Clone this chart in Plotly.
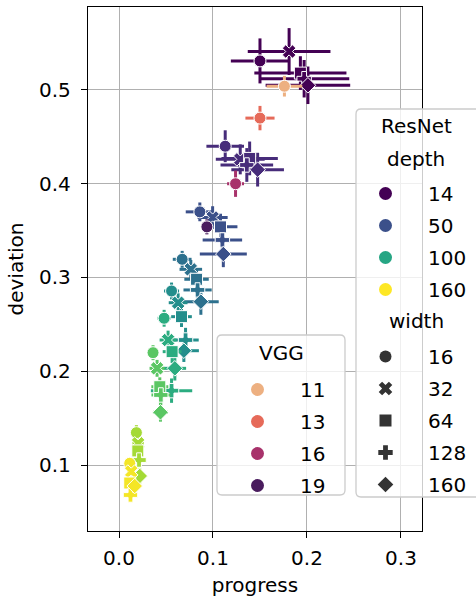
import plotly.graph_objects as go
from plotly.colors import sample_colorscale

# ---- ResNet runs: rows are depths, columns follow `res_widths` ----
res_depths = [14, 32, 50, 68, 86, 104, 122, 140, 158]
res_widths = [16, 32, 64, 128, 160]

res_progress = [
    [0.150, 0.181, 0.193, 0.197, 0.201],
    [0.113, 0.129, 0.139, 0.136, 0.1475],
    [0.086, 0.0996, 0.108, 0.110, 0.111],
    [0.0672, 0.0764, 0.0825, 0.0836, 0.0871],
    [0.0559, 0.0629, 0.0665, 0.0708, 0.069],
    [0.048, 0.0522, 0.0565, 0.0559, 0.0594],
    [0.0362, 0.0405, 0.0434, 0.0445, 0.0441],
    [0.0185, 0.0203, 0.020, 0.0213, 0.0221],
    [0.0114, 0.013, 0.0114, 0.0122, 0.0167],
]
res_deviation = [
    [0.531, 0.541, 0.518, 0.512, 0.505],
    [0.440, 0.426, 0.427, 0.420, 0.415],
    [0.370, 0.364, 0.354, 0.340, 0.325],
    [0.3194, 0.3087, 0.2981, 0.2867, 0.2742],
    [0.2856, 0.2731, 0.2582, 0.2333, 0.2219],
    [0.2565, 0.2333, 0.2209, 0.1793, 0.2031],
    [0.2198, 0.2031, 0.1835, 0.1747, 0.1562],
    [0.1345, 0.1231, 0.115, 0.1053, 0.0883],
    [0.1018, 0.093, 0.0808, 0.0680, 0.0776],
]
res_progress_err = [
    [0.031, 0.044, 0.049, 0.048, 0.045],
    [0.020, 0.026, 0.030, 0.028, 0.028],
    [0.015, 0.016, 0.018, 0.021, 0.025],
    [0.010, 0.012, 0.013, 0.015, 0.019],
    [0.008, 0.010, 0.011, 0.014, 0.016],
    [0.007, 0.009, 0.010, 0.022, 0.012],
    [0.006, 0.008, 0.009, 0.010, 0.008],
    [0.004, 0.006, 0.005, 0.006, 0.006],
    [0.003, 0.004, 0.004, 0.005, 0.004],
]
res_deviation_err = [
    [0.024, 0.025, 0.018, 0.020, 0.020],
    [0.017, 0.016, 0.018, 0.018, 0.018],
    [0.010, 0.012, 0.014, 0.013, 0.014],
    [0.009, 0.010, 0.012, 0.012, 0.014],
    [0.009, 0.010, 0.011, 0.013, 0.012],
    [0.009, 0.010, 0.012, 0.013, 0.013],
    [0.008, 0.009, 0.010, 0.011, 0.010],
    [0.008, 0.006, 0.006, 0.006, 0.008],
    [0.006, 0.005, 0.005, 0.005, 0.006],
]

# ---- VGG runs ----
vgg_depths = [11, 13, 16, 19]
vgg_progress = [0.176, 0.150, 0.124, 0.0935]
vgg_deviation = [0.504, 0.470, 0.400, 0.354]
vgg_progress_err = [0.019, 0.0155, 0.009, 0.006]
vgg_deviation_err = [0.011, 0.013, 0.014, 0.008]
vgg_colors = ["#edb081", "#e66a59", "#a8326b", "#4a1c5e"]

# legend entries
depth_legend = [14, 50, 100, 160]
width_legend = [16, 32, 64, 128, 160]

width_symbols = {16: "circle", 32: "x", 64: "square", 128: "cross", 160: "diamond"}
DEPTH_MIN, DEPTH_MAX = 14, 160


def depth_color(d):
    t = (d - DEPTH_MIN) / (DEPTH_MAX - DEPTH_MIN)
    return sample_colorscale("Viridis", [min(max(t, 0), 1)])[0]


FONT = "DejaVu Sans"
FS = 20
W, H = 476, 597
ML, MR, MT, MB = 88, 54, 7, 66
PW, PH = W - ML - MR, H - MT - MB

fig = go.Figure()

for i, d in enumerate(res_depths):
    c = depth_color(d)
    fig.add_trace(go.Scatter(
        x=res_progress[i], y=res_deviation[i], mode="markers",
        marker=dict(symbol=[width_symbols[w] for w in res_widths], size=12,
                    color=c, line=dict(color="white", width=1)),
        error_x=dict(type="data", array=res_progress_err[i], color=c, thickness=3, width=0),
        error_y=dict(type="data", array=res_deviation_err[i], color=c, thickness=3, width=0),
        showlegend=False, hoverinfo="skip",
    ))

for i, d in enumerate(vgg_depths):
    c = vgg_colors[i]
    fig.add_trace(go.Scatter(
        x=[vgg_progress[i]], y=[vgg_deviation[i]], mode="markers",
        marker=dict(symbol="circle", size=12, color=c, line=dict(color="white", width=1)),
        error_x=dict(type="data", array=[vgg_progress_err[i]], color=c, thickness=3, width=0),
        error_y=dict(type="data", array=[vgg_deviation_err[i]], color=c, thickness=3, width=0),
        showlegend=False, hoverinfo="skip",
    ))

# legend-only traces
for d in depth_legend:
    fig.add_trace(go.Scatter(
        x=[None], y=[None], mode="markers", name=str(d), legend="legend",
        legendgroup=f"d{d}",
        marker=dict(symbol="circle", size=13, color=depth_color(d)),
    ))
for w in width_legend:
    fig.add_trace(go.Scatter(
        x=[None], y=[None], mode="markers", name=str(w), legend="legend3",
        legendgroup=f"w{w}",
        marker=dict(symbol=width_symbols[w], size=12, color="#333333"),
    ))
for i, d in enumerate(vgg_depths):
    fig.add_trace(go.Scatter(
        x=[None], y=[None], mode="markers", name=str(d), legend="legend2",
        legendgroup=f"v{d}",
        marker=dict(symbol="circle", size=13, color=vgg_colors[i]),
    ))


def px2paper(px, py):
    return (px - ML) / PW, (H - MB - py) / PH


def rounded_box(x0, y0, x1, y1, r=5):
    rx, ry = r / PW, r / PH
    a0, b0 = px2paper(x0, y1)
    a1, b1 = px2paper(x1, y0)
    return (f"M {a0+rx},{b0} L {a1-rx},{b0} Q {a1},{b0} {a1},{b0+ry} "
            f"L {a1},{b1-ry} Q {a1},{b1} {a1-rx},{b1} L {a0+rx},{b1} "
            f"Q {a0},{b1} {a0},{b1-ry} L {a0},{b0+ry} Q {a0},{b0} {a0+rx},{b0} Z")


legend_common = dict(
    bgcolor="rgba(0,0,0,0)", borderwidth=0, font=dict(family=FONT, size=FS, color="black"),
    xanchor="left", yanchor="top",
    traceorder="grouped", tracegroupgap=3, itemwidth=75,
)


def legend_pos(px, py):
    x, y = px2paper(px, py)
    return dict(x=x, y=y)


def title_note(text, px, py):
    x, y = px2paper(px, py)
    return dict(text=text, x=x, y=y, xref="paper", yref="paper", showarrow=False,
                xanchor="center", yanchor="middle",
                font=dict(family=FONT, size=FS, color="black"))


axis_common = dict(
    showgrid=True, gridcolor="#b0b0b0", gridwidth=1.3, zeroline=False,
    showline=True, linecolor="black", linewidth=1.3, mirror=True,
    ticks="outside", ticklen=6, tickwidth=1.3, tickcolor="black",
    tickformat=".1f", tickfont=dict(family=FONT, size=FS, color="black"),
)

fig.update_layout(
    width=W, height=H,
    margin=dict(l=ML, r=MR, t=MT, b=MB, autoexpand=False),
    paper_bgcolor="white", plot_bgcolor="white",
    font=dict(family=FONT, size=FS, color="black"),
    xaxis=dict(
        **axis_common,
        range=[-0.033, 0.3224], tickvals=[0, 0.1, 0.2, 0.3], ticklabelstandoff=3,
        title=dict(text="progress", standoff=9, font=dict(size=FS)),
    ),
    yaxis=dict(
        **axis_common,
        range=[0.0296, 0.5885], tickvals=[0.1, 0.2, 0.3, 0.4, 0.5], ticklabelstandoff=6,
        title=dict(text="deviation", standoff=10, font=dict(size=FS)),
    ),
    legend=dict(**legend_common, **legend_pos(343, 174)),
    legend3=dict(**legend_common, **legend_pos(343, 337)),
    legend2=dict(**legend_common, **legend_pos(215, 370)),
    annotations=[
        title_note("ResNet", 416, 126),
        title_note("depth", 416, 159),
        title_note("width", 416, 321),
        title_note("VGG", 281, 353),
    ],
    shapes=[
        dict(type="path", xref="paper", yref="paper", layer="above",
             path=rounded_box(356, 109, 492, 497),
             fillcolor="rgba(255,255,255,0.8)", line=dict(color="#cccccc", width=1.3)),
        dict(type="path", xref="paper", yref="paper", layer="above",
             path=rounded_box(217, 335, 345, 495),
             fillcolor="rgba(255,255,255,0.8)", line=dict(color="#cccccc", width=1.3)),
    ],
)

fig.write_html("out.html")
